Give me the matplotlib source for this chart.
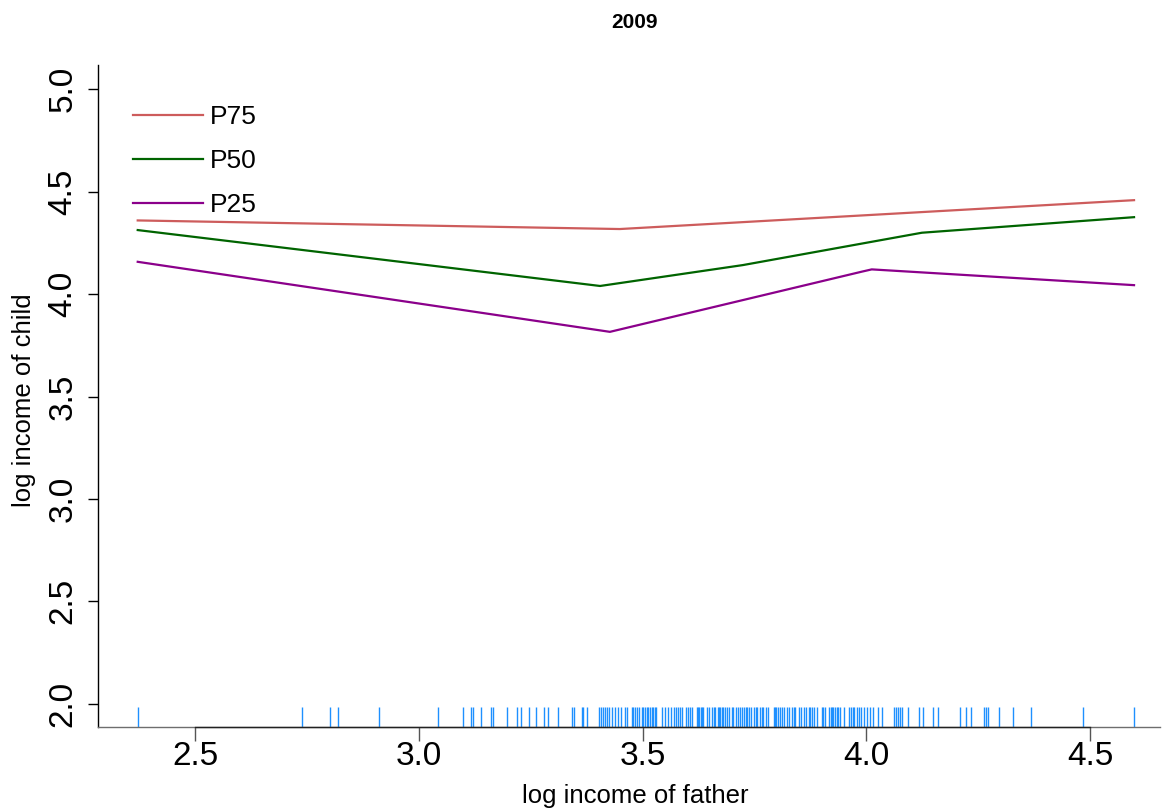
import matplotlib
matplotlib.use("Agg")
import matplotlib.pyplot as plt
from matplotlib.lines import Line2D

plt.rcParams['font.family'] = ['Liberation Sans', 'DejaVu Sans']

# Quantile curves: log income of child against log income of father
p75_x = [2.372, 3.449, 4.598]
p75_y = [4.360, 4.318, 4.459]

p50_x = [2.372, 3.405, 3.724, 4.124, 4.598]
p50_y = [4.313, 4.040, 4.142, 4.300, 4.376]

p25_x = [2.372, 3.427, 3.990, 4.012, 4.598]
p25_y = [4.158, 3.816, 4.110, 4.121, 4.044]

# Observed log incomes of fathers (rug)
rug_x = [
    2.372, 2.738, 2.802, 2.820, 2.911, 3.044, 3.099, 3.116, 3.120, 3.138,
    3.161, 3.166, 3.198, 3.220, 3.228, 3.246, 3.261, 3.279, 3.289, 3.312,
    3.343, 3.347, 3.364, 3.367, 3.376, 3.403, 3.406, 3.411, 3.416, 3.420,
    3.426, 3.431, 3.438, 3.446, 3.451, 3.461, 3.466, 3.476, 3.479, 3.484,
    3.488, 3.493, 3.498, 3.502, 3.505, 3.509, 3.513, 3.516, 3.520, 3.524,
    3.528, 3.531, 3.544, 3.550, 3.557, 3.563, 3.570, 3.575, 3.580, 3.584,
    3.589, 3.596, 3.602, 3.607, 3.611, 3.621, 3.624, 3.627, 3.630, 3.633,
    3.636, 3.643, 3.649, 3.654, 3.659, 3.662, 3.668, 3.671, 3.674, 3.677,
    3.680, 3.685, 3.689, 3.694, 3.699, 3.703, 3.709, 3.714, 3.718, 3.722,
    3.726, 3.730, 3.734, 3.738, 3.742, 3.749, 3.753, 3.756, 3.763, 3.767,
    3.770, 3.776, 3.781, 3.793, 3.796, 3.799, 3.802, 3.806, 3.811, 3.817,
    3.822, 3.826, 3.833, 3.838, 3.841, 3.849, 3.854, 3.860, 3.866, 3.871,
    3.875, 3.878, 3.883, 3.889, 3.900, 3.904, 3.907, 3.917, 3.920, 3.923,
    3.926, 3.930, 3.934, 3.937, 3.942, 3.951, 3.962, 3.965, 3.969, 3.973,
    3.978, 3.984, 3.989, 3.995, 4.001, 4.008, 4.015, 4.027, 4.034, 4.062,
    4.066, 4.071, 4.075, 4.079, 4.094, 4.117, 4.127, 4.149, 4.161, 4.209,
    4.222, 4.233, 4.263, 4.267, 4.272, 4.296, 4.327, 4.367, 4.485, 4.598,
]

x_ticks = [2.5, 3.0, 3.5, 4.0, 4.5]
x_tick_labels = ["2.5", "3.0", "3.5", "4.0", "4.5"]
y_ticks = [2.0, 2.5, 3.0, 3.5, 4.0, 4.5, 5.0]
y_tick_labels = ["2.0", "2.5", "3.0", "3.5", "4.0", "4.5", "5.0"]

series_labels = ["P75", "P50", "P25"]
series_colors = ["#CD5C5C", "#006400", "#8B008B"]

W, H = 1163, 810
fig = plt.figure(figsize=(W / 100, H / 100), dpi=100)
ax = fig.add_axes([97.7 / W, 1 - 726.7 / H, (1160 - 97.7) / W, (726.7 - 65) / H])

ax.set_xlim(2.2826, 4.656)
ax.set_ylim(1.888, 5.119)

ax.plot(p25_x, p25_y, color=series_colors[2], lw=1.6)
ax.plot(p50_x, p50_y, color=series_colors[1], lw=1.6)
ax.plot(p75_x, p75_y, color=series_colors[0], lw=1.6)

ax.vlines(rug_x, 0, 0.03, transform=ax.get_xaxis_transform(),
          color="#1E90FF", lw=1.0)

for s in ("top", "right"):
    ax.spines[s].set_visible(False)
ax.spines["left"].set_color("black")
ax.spines["left"].set_linewidth(1.0)
ax.spines["bottom"].set_color("#6e6e6e")
ax.spines["bottom"].set_linewidth(1.0)
# darker axis line between the first and last tick
ax.plot([x_ticks[0], x_ticks[-1]], [ax.get_ylim()[0]] * 2, color="#222222",
        lw=1.0, clip_on=False, zorder=5)

ax.set_xticks(x_ticks)
ax.set_xticklabels(x_tick_labels, fontsize=24)
ax.set_yticks(y_ticks)
ax.set_yticklabels(y_tick_labels, fontsize=24, rotation=90, va="center")
ax.tick_params(axis="x", length=10, width=1, color="#555555", pad=0)
ax.tick_params(axis="y", length=7, width=1, color="black", pad=7)

handles = [Line2D([], [], color=c, lw=1.6) for c in series_colors]
leg = ax.legend(handles, series_labels, loc="upper left",
                bbox_to_anchor=((133 - 97.7) / (1160 - 97.7), 1 - (105 - 65) / 661.7),
                frameon=False, fontsize=19, handlelength=2.65, handletextpad=0.27,
                labelspacing=0.76, borderpad=0, borderaxespad=0)

fig.text(635 / W, 1 - 22 / H, "2009", ha="center", va="center",
         fontsize=15, fontweight="bold")
fig.text(635.5 / W, 1 - 803 / H, "log income of father", ha="center",
         va="baseline", fontsize=18.5)
fig.text(24 / W, 1 - 400 / H, "log income of child", ha="center",
         va="center", rotation=90, fontsize=18.5)

fig.savefig("out.png", dpi=100, facecolor="white")
